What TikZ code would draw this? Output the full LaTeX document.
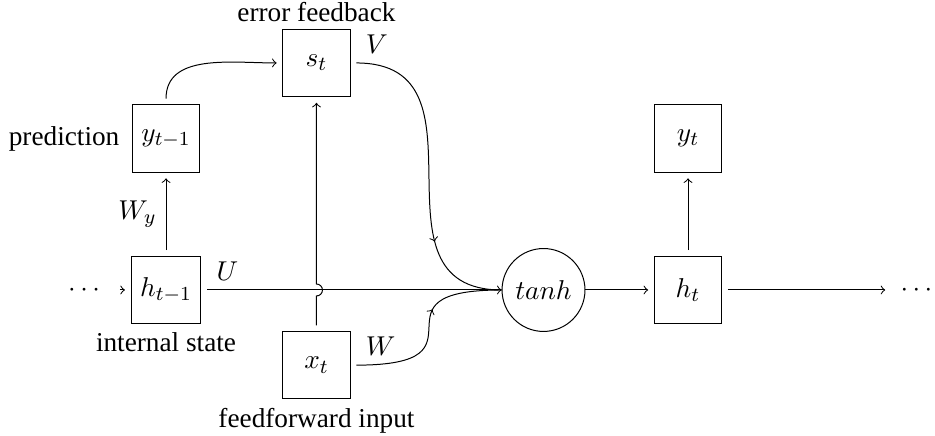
\documentclass[tikz,border=0pt,11pt]{standalone}
\usepackage{amsmath}
\usepackage{fontspec}
\setmainfont{Liberation Serif}
\usetikzlibrary{positioning,decorations.markings}

\begin{document}
\begin{tikzpicture}[
		box/.style={draw, minimum size=0.95cm, outer sep=2.5pt},
		tag/.style={inner sep=1pt},
		midarrow/.style={postaction={decorate}, decoration={markings, mark=at position #1 with {\arrow{>}}}}
	]
				\useasboundingbox (0,0) rectangle (13.2,6.155);
				% nodes
				\node[box] (yprev) at (2.344,4.2) {$y_{t-1}$};
				\node[box] (hprev) at (2.344,2.061) {$h_{t-1}$};
				\node[box] (s) at (4.468,5.266) {$s_t$};
				\node[box] (x) at (4.468,1.0) {$x_t$};
				\node[draw, circle, minimum size=1.13cm] (tanh) at (7.673,2.061) {$tanh$};
				\node[box] (h) at (9.713,2.061) {$h_t$};
				\node[box] (y) at (9.713,4.2) {$y_t$};
				\node[outer sep=2.5pt] (dotsin) at (1.22,2.061) {$\cdots$};
				\node[outer sep=2.5pt] (dotsout) at (12.97,2.061) {$\cdots$};
				% texts
				\node[tag, left=1.5pt of yprev] (predlbl) {prediction};
				\node[tag, below=0pt of hprev] (statelbl) {internal state};
				\node[tag, above=-0.5pt of s] (errlbl) {error feedback};
				\node[tag, below=0pt of x] (inlbl) {feedforward input};
				% edges
				\draw[->] (dotsin) -- (hprev);
				\draw[->] (hprev) -- node[left] (wylbl) {$W_y$} (yprev);
				\draw[->] (yprev.north) to[out=90, in=180] (s.west);
				\draw[->] (hprev.east) node[above right] (ulbl) {$U$} -- (tanh.west);
				\coordinate (jump) at (x.north |- hprev.east);
				\draw[->] (x.north) -- ([yshift=-2.4pt]jump) arc[start angle=-90, end angle=90, radius=2.4pt] -- (s.south);
				\draw[midarrow=0.71] (s.east) node[above right] (vlbl) {$V$} .. controls +(2,0) and +(-2,0) .. (tanh.west);
				\draw[midarrow=0.6] (x.east) node[above right] (wlbl) {$W$} .. controls +(2,0) and +(-2,0) .. (tanh.west);
				\draw[->] (tanh) -- (h);
				\draw[->] (h) -- (y);
				\draw[->] (h) -- (dotsout);
\end{tikzpicture}
\end{document}
